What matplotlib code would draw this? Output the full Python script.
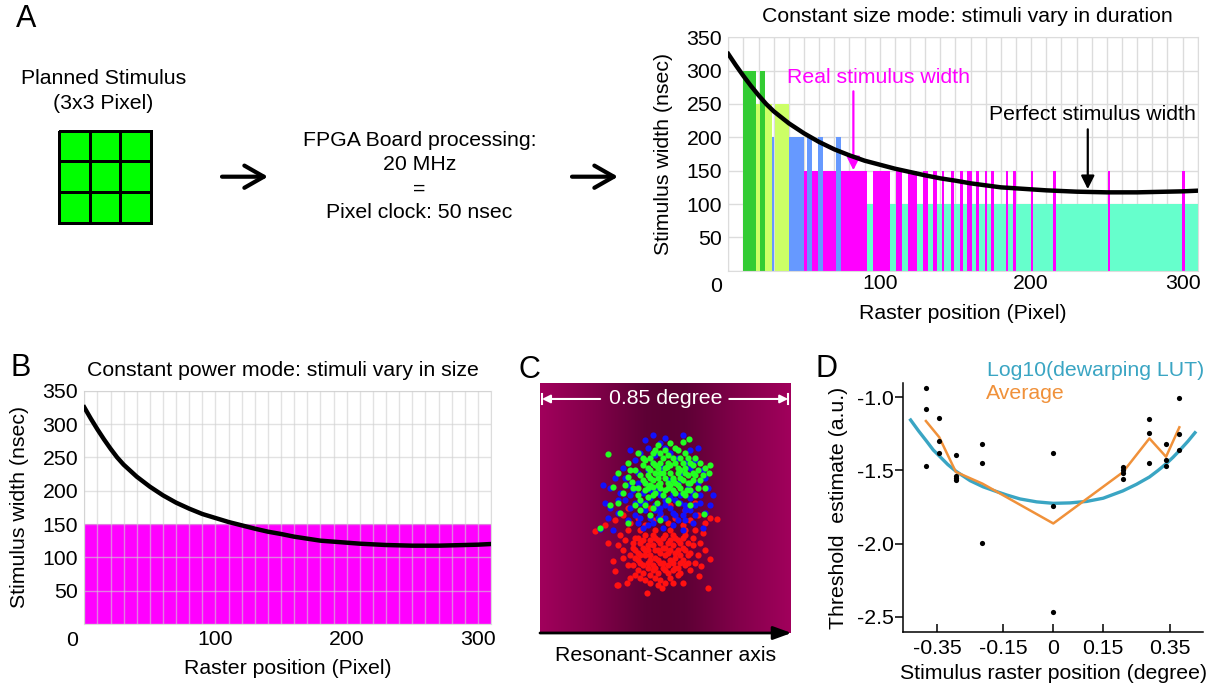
import matplotlib.pyplot as plt
import numpy as np
from matplotlib.colors import LinearSegmentedColormap, ListedColormap

plt.rcParams["font.family"] = ["Liberation Sans", "DejaVu Sans"]
plt.rcParams["font.size"] = 15.3

W, H = 1212, 688  # figure size in pixels (dpi=100)

# Perfect stimulus width (nsec) along the raster line
raster_pos = [0, 5, 10, 15, 20, 25, 30, 40, 50, 60, 70, 80, 90, 100, 110, 120,
              130, 140, 150, 160, 170, 180, 190, 200, 210, 220, 230, 240, 250,
              260, 270, 280, 290, 300, 310]
perfect_width = [325, 308, 292, 277, 263, 250, 239, 221, 206, 193, 182, 173,
                 165, 159, 153, 148, 143, 138.5, 135, 131, 128, 125, 123.5, 122,
                 120.5, 119.5, 118.5, 118, 117.5, 117.5, 117.5, 118, 118.5, 119,
                 120]

# Constant size mode: raster ranges (pixel) covered by each real stimulus width
teal_spans = [(91.5, 310.0)]
lime_spans = [(18.3, 28.9), (31.0, 40.3)]
green_spans = [(9.9, 18.3), (20.9, 24.5)]
magenta_spans = [(50.3, 91.4), (95.8, 106.7), (110.5, 114.9), (119.0, 124.4),
                 (128.8, 132.1), (135.0, 137.6), (140.9, 142.7), (147.0, 148.9),
                 (153.0, 155.2), (157.4, 160.7), (163.6, 165.6), (169.5, 171.0),
                 (173.3, 175.5), (183.4, 185.0), (188.3, 190.3), (200.0, 201.5),
                 (214.7, 216.2), (250.6, 252.3), (299.9, 301.6)]
blue_spans = [(28.9, 30.5), (40.3, 50.3), (51.8, 55.5), (59.5, 62.3), (71.1, 74.4)]
size_mode_spans = [teal_spans, lime_spans, green_spans, magenta_spans, blue_spans]
size_mode_widths = [100, 250, 300, 150, 200]
size_mode_colors = ["#66ffcc", "#ccff66", "#33cc33", "#ff00ff", "#6699ff"]

# Constant power mode: one stimulus width for the whole line
power_span = (0, 310)
power_width = 150

# Stimulus locations in the 0.85 degree field (percent of field)
red_pts = [(38, 38), (40, 36), (42, 39), (44, 37), (46, 38), (48, 36), (50, 39), (52, 37),
           (54, 38), (56, 36), (58, 39), (37, 34), (39, 32), (41, 34), (43, 33), (45, 35),
           (47, 33), (49, 34), (51, 32), (53, 35), (55, 33), (57, 34), (59, 31), (38, 30),
           (40, 28), (42, 31), (44, 29), (46, 30), (48, 28), (50, 31), (52, 29), (54, 30),
           (56, 28), (58, 27), (39, 25), (41, 24), (43, 26), (45, 25), (47, 24), (49, 26),
           (51, 24), (53, 25), (55, 23), (42, 21), (44, 20), (46, 22), (48, 21), (50, 20),
           (30, 45), (33, 47), (36, 44), (39, 46), (42, 43), (45, 45), (48, 47), (51, 44),
           (54, 46), (57, 43), (60, 45), (63, 47), (66, 44), (35, 50), (44, 50), (52, 51),
           (58, 49), (62, 52), (70.5, 45.6), (68, 46), (21.9, 40.8), (26, 43),
           (30.6, 19.3), (31.3, 19.3), (34.6, 20), (42.5, 16), (48.5, 18), (67.2, 18),
           (63.6, 22.6), (67.8, 29.5), (29.3, 28.6), (29.9, 24.6), (64.2, 26.6), (33, 33),
           (35, 27), (61, 35), (63, 31), (60, 25), (36, 22), (57, 20), (65, 40), (32, 39),
           (27, 36), (62, 41), (37, 36), (39, 38), (41, 37), (43, 35), (45, 39), (47, 37),
           (49, 38), (51, 36), (53, 39), (55, 37), (57, 38), (59, 36), (36, 31), (38, 33),
           (40, 31), (42, 33), (44, 31), (46, 33), (48, 32), (50, 34), (52, 33), (54, 32),
           (56, 31), (58, 33), (60, 32), (37, 27), (39, 29), (41, 27), (43, 28), (45, 27),
           (47, 29), (49, 28), (51, 27), (53, 28), (55, 26), (57, 29), (59, 28), (40, 22),
           (44, 23), (46, 26), (50, 25), (52, 22), (54, 26), (56, 24), (38, 23), (47, 19),
           (53, 20), (34, 37), (33, 30), (61, 38), (62, 28), (35, 41), (40, 41), (46, 41),
           (52, 41), (58, 41), (64, 36), (31, 35), (66, 33)]
blue_pts = [(45, 79), (48, 76), (43, 74), (40, 72), (50, 74), (52, 72), (46, 71), (38, 69),
            (55, 70), (58, 68), (62, 69), (33, 66), (30, 62), (25, 59), (26, 52), (28, 50),
            (31, 48), (34, 53), (36, 50), (38, 47), (40, 52), (42, 49), (44, 54), (46, 51),
            (48, 48), (50, 53), (52, 50), (54, 47), (56, 52), (58, 49), (60, 54), (62, 51),
            (64, 55), (66, 48), (68, 51), (41, 56), (47, 57), (53, 56), (59, 58), (63, 60),
            (37, 57), (45, 44), (49, 42), (53, 43), (41, 42), (57, 41), (61, 44), (65, 42),
            (35, 45), (29, 41), (24, 41.5), (50, 46), (44, 46), (39, 60), (55, 60), (67, 58),
            (32, 56), (47, 63), (51, 61), (43, 65), (56, 64), (60, 66), (28, 58), (34, 62),
            (42, 60), (66, 62), (48, 50), (52, 54), (46, 58), (38, 52), (62, 47), (55, 45),
            (39, 44), (58, 45), (49, 66), (45, 68), (42, 52), (46, 49), (50, 51), (54, 53),
            (58, 51), (44, 57), (48, 55), (56, 55), (40, 46), (60, 49), (36, 55), (64, 52),
            (47, 46), (53, 48), (43, 43), (57, 47), (61, 56), (35, 59), (39, 64), (65, 65),
            (31, 53), (27, 46), (69, 55), (50, 78), (42, 77), (36, 73), (60, 73), (63, 74),
            (57, 79)]
green_pts = [(27, 71.5), (24, 42), (29, 58.5), (31, 52), (35, 62.5), (39, 72), (41, 67),
             (43, 54.5), (45, 58.5), (48, 64), (50.5, 66.5), (53, 61), (56, 65), (57, 76.5),
             (59.4, 77.4), (61, 64), (64, 61), (67.6, 64), (65.4, 47.5), (58.5, 57), (46.5, 52),
             (40, 49), (35, 44), (36.6, 60.5), (42, 60), (44, 62), (46, 64), (48, 60), (50, 62),
             (52, 64), (54, 60), (56, 62), (58, 64), (60, 60), (43, 66), (45, 68), (47, 66),
             (49, 70), (51, 68), (53, 70), (55, 66), (57, 68), (59, 70), (61, 67), (42, 57),
             (44, 59), (46, 56), (48, 58), (50, 57), (52, 59), (54, 56), (56, 58), (58, 55),
             (60, 57), (40, 63), (38, 65), (37, 58), (39, 55), (63, 65), (62, 70), (64, 68),
             (66, 66), (41, 70), (45, 72), (50, 73), (55, 73), (47, 75), (52, 76), (35, 68),
             (33, 56), (31, 64), (62, 55), (60, 51), (45, 50), (51, 53), (55, 52), (44, 47),
             (48, 45), (38, 51), (66, 58), (68, 67), (32, 48), (28, 51), (43, 63), (45, 61),
             (47, 62), (49, 64), (51, 60), (53, 62), (55, 64), (57, 61), (59, 63), (61, 61),
             (44, 65), (46, 67), (48, 68), (50, 66), (52, 67), (54, 68), (56, 70), (58, 66),
             (60, 68), (62, 63), (41, 61), (39, 58), (43, 58), (47, 59), (51, 58), (55, 59),
             (59, 60), (63, 58), (45, 55), (49, 55), (53, 57), (57, 56), (42, 69), (46, 73),
             (51, 71), (54, 74), (58, 72), (48, 72), (44, 70), (36, 65), (34, 59), (65, 63),
             (40, 53), (42, 51)]
field_colors = ["#ff1111", "#1111ff", "#22ff22"]

# Threshold estimates per stimulus raster position (degree)
positions = [-0.383, -0.343, -0.293, -0.213, 0.0, 0.209, 0.289, 0.339, 0.379]
thresholds = [[-0.934, -1.082, -1.470], [-1.141, -1.299, -1.378],
              [-1.392, -1.536, -1.550, -1.563], [-1.321, -1.451, -1.999],
              [-1.381, -1.741, -2.466], [-1.479, -1.497, -1.515, -1.559],
              [-1.150, -1.242, -1.451], [-1.321, -1.429, -1.470],
              [-1.002, -1.253, -1.360]]
lut_pos = [-0.429, -0.405, -0.381, -0.361, -0.341, -0.317, -0.293, -0.25, -0.211,
           -0.17, -0.14, -0.1, -0.05, 0.0, 0.05, 0.1, 0.15, 0.209, 0.25, 0.289,
           0.315, 0.339, 0.36, 0.379, 0.405, 0.426]
lut_log = [-1.155, -1.23, -1.30, -1.36, -1.405, -1.46, -1.505, -1.57, -1.612,
           -1.645, -1.668, -1.695, -1.715, -1.725, -1.722, -1.712, -1.69, -1.64,
           -1.595, -1.545, -1.50, -1.455, -1.41, -1.365, -1.30, -1.242]
lut_color = "#3aa5c3"
avg_color = "#f0913a"

fig = plt.figure(figsize=(W / 100, H / 100), dpi=100)


def px_axes(left, top, right, bottom):
    return fig.add_axes([left / W, 1 - bottom / H, (right - left) / W, (bottom - top) / H])


def raster_style(ax, xpad, grid_on_top=False):
    ticks = np.arange(0, 311, 10)
    ax.set_xlim(0, 310)
    ax.set_ylim(0, 350)
    ax.set_xticks(ticks)
    ax.set_xticklabels([str(t) if t in (100, 200, 300) else "" for t in ticks])
    ax.set_yticks(np.arange(0, 351, 50))
    ax.set_yticklabels([""] + [str(v) for v in range(50, 351, 50)])
    ax.tick_params(length=0)
    ax.tick_params(axis="x", pad=xpad)
    ax.tick_params(axis="y", pad=4.5)
    if grid_on_top:
        ax.set_axisbelow(False)
        ax.grid(True, color="#d0d0d0", lw=1, alpha=0.6)
    else:
        ax.set_axisbelow(True)
        ax.grid(True, color="#dcdcdc", lw=1)
    for s in ax.spines.values():
        s.set_color("#dcdcdc")
    ax.annotate("0", xy=(0, 0), xycoords="axes fraction", xytext=(-12, -16),
                textcoords="offset pixels", ha="center", va="center")
    ax.set_xlabel("Raster position (Pixel)", va="center")
    ax.set_ylabel("Stimulus width (nsec)", va="center")


# ---- A: constant size mode ----
ax_a = px_axes(728.3, 37.3, 1197.7, 270.7)
for spans, width, color in zip(size_mode_spans, size_mode_widths, size_mode_colors):
    ax_a.bar([s for s, e in spans], width, width=[e - s for s, e in spans],
             align="edge", color=color, lw=0)
ax_a.plot(raster_pos, perfect_width, color="k", lw=3.2, zorder=5)
raster_style(ax_a, xpad=2.6)
ax_a.xaxis.set_label_coords(0.5, -42.6 / 233.4)
ax_a.yaxis.set_label_coords(-65 / 469.4, 0.5)
ax_a.text(0.51, 1 + 20.6 / 233.4, "Constant size mode: stimuli vary in duration",
          transform=ax_a.transAxes, ha="center", va="center")
ax_a.text(38.8, 290, "Real stimulus width", color="#ff00ff", ha="left", va="center")
ax_a.annotate("", xy=(82.6, 150.7), xytext=(82.6, 269),
              arrowprops=dict(arrowstyle="-|>", color="#ff00ff", lw=1.6,
                              mutation_scale=20, shrinkA=0, shrinkB=0))
ax_a.text(172.2, 234, "Perfect stimulus width", color="k", ha="left", va="center")
ax_a.annotate("", xy=(237.4, 122.3), xytext=(237.4, 212),
              arrowprops=dict(arrowstyle="-|>", color="k", lw=1.6,
                              mutation_scale=20, shrinkA=0, shrinkB=0), zorder=6)

# ---- B: constant power mode ----
ax_b = px_axes(84.3, 390.7, 491, 624)
ax_b.bar(power_span[0], power_width, width=power_span[1] - power_span[0],
         align="edge", color="#ff00ff", lw=0)
ax_b.plot(raster_pos, perfect_width, color="k", lw=3.2, zorder=5)
raster_style(ax_b, xpad=4.3, grid_on_top=True)
ax_b.xaxis.set_label_coords(0.5, -44.3 / 233.3)
ax_b.yaxis.set_label_coords(-65 / 406.7, 0.5)
ax_b.text(0.488, 1 + 20 / 233.3, "Constant power mode: stimuli vary in size",
          transform=ax_b.transAxes, ha="center", va="center")

# ---- C: stimulus positions on the scan field ----
ax_c = px_axes(540, 382.7, 790.7, 633)
field_cmap = LinearSegmentedColormap.from_list(
    "field", [(0, "#a1005c"), (0.2, "#84004b"), (0.42, "#5e0035"), (0.5, "#5a0032"),
              (0.58, "#5e0035"), (0.8, "#84004b"), (1, "#a1005c")])
ax_c.imshow(np.linspace(0, 1, 256)[None, :], cmap=field_cmap, extent=(0, 100, 0, 100),
            aspect="auto")
for pts, color in zip([red_pts, blue_pts, green_pts], field_colors):
    ax_c.scatter([p[0] for p in pts], [p[1] for p in pts], s=20, color=color, lw=0)
ax_c.set_xlim(0, 100)
ax_c.set_ylim(0, 100)
ax_c.axis("off")
y_dim = 0.935
ax_c.text(0.5, y_dim, "0.85 degree", color="white", ha="center", va="center",
          transform=ax_c.transAxes)
for x0, x1 in ((0.24, 0.008), (0.755, 0.99)):
    ax_c.annotate("", xy=(x1, y_dim), xytext=(x0, y_dim), xycoords="axes fraction",
                  arrowprops=dict(arrowstyle="-|>", color="white", lw=1.5,
                                  mutation_scale=12, shrinkA=0, shrinkB=0))
    ax_c.plot([x1, x1], [y_dim - 0.02, y_dim + 0.02], color="white", lw=1.5,
              transform=ax_c.transAxes)
ax_c.annotate("", xy=(1.003, 0), xytext=(0, 0), xycoords="axes fraction",
              arrowprops=dict(arrowstyle="-|>,head_length=0.55,head_width=0.2",
                              color="k", lw=2, mutation_scale=20, shrinkA=0, shrinkB=0))
ax_c.text(0.5, -0.088, "Resonant-Scanner axis", ha="center", va="center",
          transform=ax_c.transAxes)

# ---- D: threshold vs. raster position ----
ax_d = px_axes(903.3, 383.3, 1203.3, 631.7)
for x, ys in zip(positions, thresholds):
    ax_d.scatter([x] * len(ys), ys, s=14, color="k", lw=0, zorder=4)
ax_d.plot(lut_pos, lut_log, color=lut_color, lw=2.4)
ax_d.plot(positions, [np.mean(ys) for ys in thresholds], color=avg_color, lw=1.8)
ax_d.set_xlim(-0.451, 0.451)
ax_d.set_ylim(-2.603, -0.904)
ax_d.set_xticks([-0.35, -0.15, 0, 0.15, 0.35])
ax_d.set_xticklabels(["-0.35", "-0.15", "0", "0.15", "0.35"])
ax_d.set_yticks([-1.0, -1.5, -2.0, -2.5])
ax_d.set_yticklabels(["-1.0", "-1.5", "-2.0", "-2.5"])
ax_d.tick_params(axis="x", direction="in", length=6, width=1.1, pad=5.5)
ax_d.tick_params(axis="y", direction="out", length=6, width=1.1, pad=1)
for side in ("top", "right"):
    ax_d.spines[side].set_visible(False)
for side in ("left", "bottom"):
    ax_d.spines[side].set_linewidth(1.1)
ax_d.set_xlabel("Stimulus raster position (degree)", va="center")
ax_d.set_ylabel("Threshold  estimate (a.u.)", va="center")
ax_d.xaxis.set_label_coords(0.5, -41.6 / 248.4)
ax_d.yaxis.set_label_coords(-65 / 300, 0.5)

# ---- overlay: panel letters, A-left diagram, legend text ----
canvas = fig.add_axes([0, 0, 1, 1])
canvas.set_xlim(0, W)
canvas.set_ylim(H, 0)
canvas.axis("off")
canvas.set_zorder(5)

for letter, (lx, ly) in zip("ABCD", [(26, 19), (21, 368), (529.5, 370), (826.3, 369)]):
    canvas.text(lx, ly, letter, fontsize=22, ha="center", va="center")

canvas.text(103.4, 79, "Planned Stimulus", ha="center", va="center")
canvas.text(103.4, 103.5, "(3x3 Pixel)", ha="center", va="center")
cells = np.ones((3, 3))
canvas.pcolormesh(np.linspace(58.6, 151.3, 4), np.linspace(130.7, 222.7, 4), cells,
                  cmap=ListedColormap(["#00ff00"]), edgecolors="k", linewidth=2)

fpga_lines = ["FPGA Board processing:", "20 MHz", "=", "Pixel clock: 50 nsec"]
for i, line in enumerate(fpga_lines):
    canvas.text(419.5, 141 + 23.9 * i, line, ha="center", va="center")

for x0, x1 in ((222, 268), (572, 618)):
    canvas.annotate("", xy=(x1, 176.7), xytext=(x0, 176.7),
                    arrowprops=dict(arrowstyle="->,head_length=0.7,head_width=0.4",
                                    lw=3, color="k", mutation_scale=20,
                                    shrinkA=0, shrinkB=0))

canvas.text(986.7, 370, "Log10(dewarping LUT)", color=lut_color, ha="left", va="center")
canvas.text(986, 393.5, "Average", color=avg_color, ha="left", va="center")

fig.savefig("out.png", dpi=100)
